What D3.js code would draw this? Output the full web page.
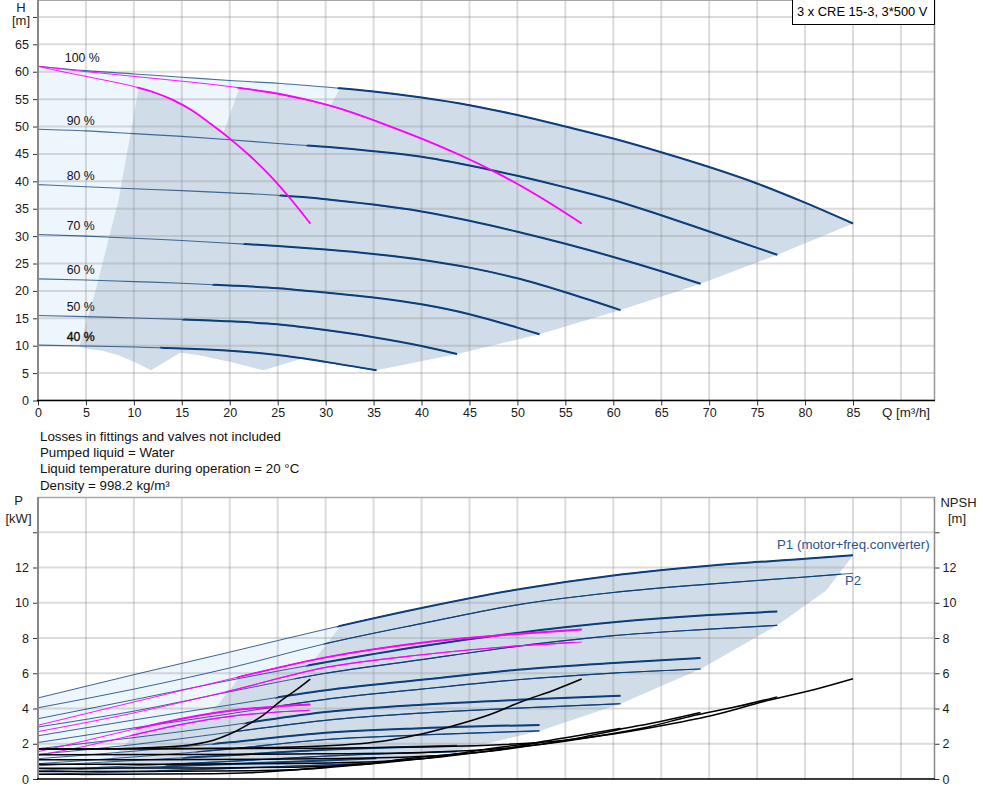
<!DOCTYPE html>
<html><head><meta charset="utf-8">
<script src="https://cdn.jsdelivr.net/npm/d3@7"></script>
<style>
body{margin:0;background:#fff;}
svg{display:block;font-family:"Liberation Sans",Arial,sans-serif;}
</style>
</head><body>
<svg id="c" width="983" height="801"></svg>
<script>
// ---------------- DATA ----------------
const speedNames = ["100 %","90 %","80 %","70 %","60 %","50 %","40 %"];
// Head curves, 3 pumps in parallel (Q m3/h, H m)
const headQ = [
  [0,5,10,15,20,25,30,35,40,45,50,55,60,65,70,75,80,85],
  [0,5,10,15,20,25,30,35,40,45,50,55,60,65,70,75,77.1],
  [0,5,10,15,20,25,30,35,40,45,50,55,60,65,69.1],
  [0,5,10,15,20,25,30,35,40,45,50,55,60.75],
  [0,5,10,15,20,25,30,35,40,45,50,52.3],
  [0,5,10,15,20,25,30,35,40,43.7],
  [0,5,10,15,20,25,30,35.3]
];
const headH = [
  [61.0,60.2,59.6,59.0,58.4,57.9,57.2,56.4,55.3,53.9,52.1,50.0,47.8,45.3,42.6,39.6,36.1,32.3],
  [49.5,49.2,48.7,48.2,47.6,46.9,46.3,45.5,44.5,42.9,41.0,38.9,36.6,33.8,30.85,27.85,26.6],
  [39.4,39.0,38.65,38.3,37.9,37.45,36.75,35.75,34.5,32.8,30.8,28.6,26.2,23.6,21.3],
  [30.3,30.0,29.6,29.2,28.7,28.2,27.55,26.75,25.7,24.25,22.3,19.75,16.5],
  [22.2,22.0,21.7,21.4,21.0,20.5,19.7,18.8,17.55,15.75,13.3,12.1],
  [15.5,15.3,15.05,14.8,14.45,13.9,12.85,11.55,9.95,8.5],
  [10.1,9.95,9.76,9.5,9.1,8.3,7.05,5.5]
];
// 1 pump and 2 pumps at 100 % (magenta)
const oneQ = [0,2,4,6,8,10,12,14,16,18,20,22,24,26,28.4];
const oneH = [61.0,60.2,59.5,58.8,58.1,57.3,56.3,54.9,53.0,50.5,47.8,44.8,41.4,37.5,32.3];
const twoQ = [0,4,8,12,16,20,24,28,32,36,40,44,48,52,56.7];
const twoH = [61.0,60.2,59.5,58.8,58.1,57.3,56.3,54.9,53.0,50.5,47.8,44.8,41.4,37.5,32.3];

// Operating areas (Q, H)
const areaLight = [[0,61],[5,60.2],[10,59.6],[15,59.0],[20,58.4],[25,57.9],[30,57.2],[31.5,57.0],
  [25.2,36.6],[18,20],[12.9,9.8],[10,9.76],[5,9.95],[0,10.1]];
const areaOne = [[4.3,9.8],[6.0,20],[8.4,36.6],[10.5,57.0],[12,56.3],[14,54.9],[16,53.0],[18,50.5],
  [20,47.8],[22,44.8],[24,41.4],[26,37.5],[28.4,32.3],[25.7,26.5],[23.0,21.3],[20.25,16.5],
  [17.4,12.1],[14.6,8.5],[11.8,5.5],[10,7.05],[8.33,8.3],[6.67,9.1],[5,9.5]];
const areaTwo = [[8.6,9.8],[12,20],[16.8,36.6],[21,57.0],[24,56.3],[28,54.9],[32,53.0],[36,50.5],
  [40,47.8],[44,44.8],[48,41.4],[52,37.5],[56.7,32.3],[51.4,26.5],[46.1,21.3],[40.5,16.5],
  [34.9,12.1],[29.1,8.5],[23.5,5.5],[20,7.05],[16.67,8.3],[13.33,9.1],[10,9.5]];
const areaThree = [[12.9,9.8],[18,20],[25.2,36.6],[31.5,57.0],[35,56.4],[40,55.3],[45,53.9],[50,52.1],
  [55,50.0],[60,47.8],[65,45.3],[70,42.6],[75,39.6],[80,36.1],[85,32.3],[77.1,26.6],[69.1,21.3],
  [60.75,16.5],[52.3,12.1],[43.7,8.5],[35.3,5.5],[30,7.05],[25,8.3],[20,9.1],[15,9.5]];

// Power curves, 3 pumps (Q, P1 and P2 in kW)
const powQ = [
  [0,10,20,30,40,50,60,70,80,85],
  [0,10,20,30,40,50,60,70,77.1],
  [0,10,20,30,40,50,60,69.1],
  [0,10,20,30,40,50,60.75],
  [0,10,20,30,40,52.3],
  [0,10,20,30,43.7],
  [0,10,20,30,35.3]
];
const powP1 = [
  [4.6,5.92,7.2,8.5,9.7,10.75,11.55,12.1,12.5,12.7],
  [3.42,4.5,5.6,6.62,7.53,8.29,8.89,9.3,9.5],
  [2.45,3.35,4.2,5.03,5.63,6.2,6.58,6.86],
  [1.72,2.35,3.05,3.8,4.21,4.49,4.72],
  [1.15,1.58,2.08,2.62,2.88,3.07],
  [0.75,1.05,1.35,1.66,1.88],
  [0.45,0.65,0.85,1.05,1.18]
];
const powP2 = [
  [4.04,5.1,6.3,7.68,8.82,9.88,10.58,11.06,11.46,11.67],
  [2.95,3.85,4.95,6.0,6.77,7.53,8.13,8.5,8.72],
  [2.07,2.9,3.7,4.52,5.10,5.63,6.01,6.24],
  [1.4,1.95,2.65,3.33,3.74,4.02,4.27],
  [0.87,1.25,1.7,2.24,2.5,2.73],
  [0.5,0.75,1.0,1.3,1.55],
  [0.26,0.42,0.6,0.8,0.89]
];
// 2 pumps and 1 pump at 100 % (magenta)
const twoPowQ = [0,10,20,30,40,50,56.7];
const twoP1 = [3.05,4.37,5.67,6.9,7.73,8.23,8.48];
const twoP2 = [2.69,3.75,5.0,6.33,7.05,7.55,7.77];
const onePowQ = [0,5,10,15,20,25,28.4];
const oneP1 = [1.55,2.18,2.83,3.42,3.87,4.12,4.22];
const oneP2 = [1.35,1.87,2.5,3.1,3.55,3.8,3.9];

// NPSH curves (m)
const npshQ = [
  [0,15,30,44.4,54.9,60,65.4,70.5,75.6,81,85],
  [0,13.5,27,40,49.4,54,58.9,63.5,68,72.9,77.1],
  [0,12,24,35.5,43.9,48,52.3,56.4,60.5,64.8,69.1],
  [0,10.5,21,31.1,38.4,42,45.8,49.4,52.9,56.7,60.75],
  [0,9,18,26.6,32.9,36,39.2,42.3,45.4,48.6,52.3],
  [0,7.5,15,22.2,27.5,30,32.7,35.3,37.8,40.5,43.7],
  [0,6,12,17.8,22,24,26.2,28.2,30.2,32.4,35.3]
];
const npshV = [
  [1.70,1.71,1.75,1.87,2.2,2.55,3.06,3.63,4.38,5.08,5.69],
  [1.38,1.39,1.42,1.51,1.78,2.07,2.48,2.94,3.55,4.11,4.66],
  [1.09,1.09,1.12,1.2,1.41,1.63,1.96,2.32,2.8,3.25,3.77],
  [0.83,0.84,0.86,0.92,1.08,1.25,1.5,1.78,2.15,2.49,2.87],
  [0.61,0.62,0.63,0.67,0.79,0.92,1.1,1.31,1.58,1.83,2.05],
  [0.43,0.43,0.44,0.47,0.55,0.64,0.77,0.91,1.1,1.27,1.42],
  [0.27,0.27,0.28,0.3,0.35,0.41,0.49,0.58,0.7,0.81,0.91]
];
const npshOneQ = [0,5,10,14.8,18.3,20,21.8,23.5,25.2,27,28.4];
const npshOneV = [1.70,1.71,1.75,1.87,2.2,2.55,3.06,3.63,4.38,5.08,5.67];
const npshTwoQ = [0,10,20,29.6,36.6,40,43.6,47,50.4,54,56.7];
const npshTwoV = [1.70,1.71,1.75,1.87,2.2,2.55,3.06,3.63,4.38,5.08,5.67];

// Power chart operating areas (Q, P)
const powLight = [[0,4.6],[10,5.92],[20,7.2],[30,8.5],[31.5,8.64],[28.35,6.45],[25.2,4.63],[22.05,3.2],
  [18.9,2.03],[15.75,1.22],[12.6,0.46],[10,0.42],[0,0.26]];
const powThree = [[31.5,8.64],[40,9.7],[50,10.75],[60,11.55],[70,12.1],[80,12.5],[85,12.7],
  [82.2,10.7],[77.1,8.72],[69.1,6.24],[60.75,4.27],[52.3,2.73],[43.7,1.6],[35.3,0.95],
  [30,0.8],[20,0.6],[12.6,0.46],[15.75,1.22],[18.9,2.03],[22.05,3.2],[25.2,4.63],[28.35,6.45]];
const powTwo = [[21,5.76],[30,6.9],[40,7.73],[50,8.23],[56.7,8.48],[54.8,7.13],[51.4,5.81],[46.1,4.16],
  [40.5,2.85],[34.9,1.82],[29.1,1.07],[23.5,0.63],[20,0.53],[13.3,0.4],[8.4,0.31],
  [10.5,0.81],[12.6,1.35],[14.7,2.13],[16.8,3.09],[18.9,4.3]];
const powOne = [[10.5,2.88],[15,3.42],[20,3.87],[25,4.12],[28.4,4.22],[27.4,3.57],[25.7,2.91],[23.0,2.08],
  [20.25,1.42],[17.4,0.91],[14.6,0.53],[11.8,0.32],[10,0.27],[6.67,0.2],[4.2,0.17],
  [5.25,0.41],[6.3,0.68],[7.35,1.07],[8.4,1.54],[9.45,2.15]];

const qTicks = [0,5,10,15,20,25,30,35,40,45,50,55,60,65,70,75,80,85];
const qGrid = [0,5,10,15,20,25,30,35,40,45,50,55,60,65,70,75,80,85,90];
const hGrid = [0,5,10,15,20,25,30,35,40,45,50,55,60,65,70];
const pGrid = [0,2,4,6,8,10,12,14];
const notes = ["Losses in fittings and valves not included","Pumped liquid = Water",
  "Liquid temperature during operation = 20 °C","Density = 998.2 kg/m³"];
const title = "3 x CRE 15-3, 3*500 V";

// ---------------- DRAWING ----------------
const svg = d3.select("#c");
const x = d3.scaleLinear().domain([0,93.5]).range([38,934.5]);
const yH = d3.scaleLinear().domain([0,73]).range([400.5,0.5]);
const yP = d3.scaleLinear().domain([0,16]).range([779,497]);

const BLUE = "#0c3f7a", MAG = "#ff00ff", LIGHT = "#edf5fd", DARK = "#d0dce8";
const GRID = "rgba(150,150,150,0.33)";
const FS = 13;

const zipLine = (qs, vs) => qs.map((q,i)=>[q,vs[i]]);
const lineH = d3.line().x(d=>x(d[0])).y(d=>yH(d[1])).curve(d3.curveMonotoneX);
const lineP = d3.line().x(d=>x(d[0])).y(d=>yP(d[1])).curve(d3.curveMonotoneX);
const polyH = d3.line().x(d=>x(d[0])).y(d=>yH(d[1]));
const polyP = d3.line().x(d=>x(d[0])).y(d=>yP(d[1]));

const defs = svg.append("defs");
// masks: operating area slightly grown so that curves on its border stay thick
const addMask = (id, d) => defs.append("mask").attr("id",id)
  .attr("maskUnits","userSpaceOnUse").attr("x",0).attr("y",0).attr("width",983).attr("height",801)
  .append("path").attr("d",d).attr("fill","#fff").attr("stroke","#fff").attr("stroke-width",4).attr("stroke-linejoin","round");
addMask("mH1", polyH(areaOne)+"Z");
addMask("mH2", polyH(areaTwo)+"Z");
addMask("mH3", polyH(areaThree)+"Z");
addMask("mP1", polyP(powOne)+"Z");
addMask("mP2", polyP(powTwo)+"Z");
addMask("mP3", polyP(powThree)+"Z");
defs.append("clipPath").attr("id","plotTop").append("rect").attr("x",38).attr("y",0).attr("width",897).attr("height",401);
defs.append("clipPath").attr("id","plotBot").append("rect").attr("x",38).attr("y",497).attr("width",897).attr("height",282);

function twoTone(g, d, color, thin, thick, mask, thinOpacity){
  g.append("path").attr("d",d).attr("fill","none").attr("stroke",color).attr("stroke-width",thin).attr("stroke-opacity",thinOpacity);
  g.append("path").attr("d",d).attr("fill","none").attr("stroke",color).attr("stroke-width",thick).attr("mask",`url(#${mask})`);
}

// ===== TOP CHART =====
const gTop = svg.append("g");
const topPlot = gTop.append("g").attr("clip-path","url(#plotTop)");
topPlot.append("path").attr("d",polyH(areaLight)+"Z").attr("fill",LIGHT);
[areaOne,areaTwo,areaThree].forEach(a=>topPlot.append("path").attr("d",polyH(a)+"Z").attr("fill",DARK));

topPlot.selectAll(".vg").data(qGrid).join("line").attr("x1",d=>x(d)).attr("x2",d=>x(d))
  .attr("y1",0).attr("y2",400).attr("stroke",GRID).attr("stroke-width",2);
topPlot.selectAll(".hg").data(hGrid).join("line").attr("x1",38).attr("x2",935)
  .attr("y1",d=>yH(d)).attr("y2",d=>yH(d)).attr("stroke",GRID).attr("stroke-width",2);

headQ.forEach((qs,i)=> twoTone(topPlot, lineH(zipLine(qs,headH[i])), BLUE, 1.1, 2, "mH3", 0.75));
twoTone(topPlot, lineH(zipLine(oneQ,oneH)), MAG, 1, 1.8, "mH1", 0.9);
twoTone(topPlot, lineH(zipLine(twoQ,twoH)), MAG, 1, 1.8, "mH2", 0.9);

gTop.selectAll(".sl").data(speedNames).join("text")
  .attr("x",(d,i)=> i===0 ? x(2.8) : x(3.0))
  .attr("y",(d,i)=>yH(headH[i][0])-4.5)
  .attr("font-size",12.3).attr("fill","#111")
  .attr("stroke",(d,i)=> i===6 ? "#111" : "none").attr("stroke-width",0.35)
  .text(d=>d);

const styleAxis = g => { g.select(".domain").remove();
  g.selectAll("text").attr("font-size",12.5).attr("fill","#1a1a1a").attr("font-family","Liberation Sans, Arial, sans-serif");
  g.selectAll("line").attr("stroke","#333"); };
const axL = d3.axisLeft(yH).tickValues(hGrid).tickFormat(d=>d<=65?d:"").tickSize(5).tickPadding(4);
gTop.append("g").attr("transform","translate(38,0)").call(axL).call(styleAxis);
const axB = d3.axisBottom(x).tickValues(qTicks).tickSize(5).tickPadding(3);
gTop.append("g").attr("transform","translate(0,400.5)").call(axB).call(styleAxis);

gTop.append("line").attr("x1",38).attr("x2",935).attr("y1",0.5).attr("y2",0.5).attr("stroke","#a8a8a8");
gTop.append("line").attr("x1",934.5).attr("x2",934.5).attr("y1",0).attr("y2",400.5).attr("stroke","#999").attr("stroke-width",1.5);
gTop.append("line").attr("x1",38).attr("x2",38).attr("y1",0).attr("y2",401).attr("stroke","#888").attr("stroke-width",2);
gTop.append("line").attr("x1",37).attr("x2",935).attr("y1",400.5).attr("y2",400.5).attr("stroke","#000").attr("stroke-width",1.5);

gTop.append("text").attr("x",21).attr("y",11.5).attr("text-anchor","middle").attr("font-size",FS).attr("fill","#222").text("H");
gTop.append("text").attr("x",21).attr("y",25).attr("text-anchor","middle").attr("font-size",FS).attr("fill","#222").text("[m]");
gTop.append("text").attr("x",882).attr("y",417).attr("font-size",13.3).attr("fill","#222").text("Q [m³/h]");

gTop.append("rect").attr("x",792.5).attr("y",-1).attr("width",142).attr("height",25.5).attr("fill","#fff").attr("stroke","#000");
gTop.append("text").attr("x",797).attr("y",16).attr("font-size",12.9).attr("fill","#000").text(title);

svg.selectAll(".note").data(notes).join("text").attr("x",40).attr("y",(d,i)=>441+i*16.2)
  .attr("font-size",13.3).attr("fill","#111").text(d=>d);

// ===== BOTTOM CHART =====
const gBot = svg.append("g");
const botPlot = gBot.append("g").attr("clip-path","url(#plotBot)");
botPlot.append("path").attr("d",polyP(powLight)+"Z").attr("fill",LIGHT);
[powOne,powTwo,powThree].forEach(a=>botPlot.append("path").attr("d",polyP(a)+"Z").attr("fill",DARK));
botPlot.selectAll(".vg").data(qGrid).join("line").attr("x1",d=>x(d)).attr("x2",d=>x(d))
  .attr("y1",497).attr("y2",779).attr("stroke",GRID).attr("stroke-width",2);
botPlot.selectAll(".hg").data(pGrid).join("line").attr("x1",38).attr("x2",935)
  .attr("y1",d=>yP(d)).attr("y2",d=>yP(d)).attr("stroke",GRID).attr("stroke-width",2);

powQ.forEach((qs,i)=>{
  twoTone(botPlot, lineP(zipLine(qs,powP2[i])), BLUE, 1, 1.2, "mP3", 0.8);
  twoTone(botPlot, lineP(zipLine(qs,powP1[i])), BLUE, 1, 2, "mP3", 0.8);
});
twoTone(botPlot, lineP(zipLine(twoPowQ,twoP1)), MAG, 1, 2, "mP2", 0.9);
twoTone(botPlot, lineP(zipLine(twoPowQ,twoP2)), MAG, 1, 1.2, "mP2", 0.9);
twoTone(botPlot, lineP(zipLine(onePowQ,oneP1)), MAG, 1, 2, "mP1", 0.9);
twoTone(botPlot, lineP(zipLine(onePowQ,oneP2)), MAG, 1, 1.2, "mP1", 0.9);

npshQ.forEach((qs,i)=>{
  botPlot.append("path").attr("d",lineP(zipLine(qs,npshV[i]))).attr("fill","none").attr("stroke","#000").attr("stroke-width",1.5);
});
[[npshOneQ,npshOneV],[npshTwoQ,npshTwoV]].forEach(([qs,vs])=>{
  botPlot.append("path").attr("d",lineP(zipLine(qs,vs))).attr("fill","none").attr("stroke","#000").attr("stroke-width",1.5);
});

const axPL = d3.axisLeft(yP).tickValues(pGrid).tickFormat(d=>d<=12?d:"").tickSize(5).tickPadding(4);
const axPR = d3.axisRight(yP).tickValues(pGrid).tickFormat(d=>d<=12?d:"").tickSize(5).tickPadding(3);
gBot.append("g").attr("transform","translate(38,0)").call(axPL).call(styleAxis);
gBot.append("g").attr("transform","translate(934.5,0)").call(axPR).call(styleAxis);

gBot.append("line").attr("x1",38).attr("x2",935).attr("y1",497.5).attr("y2",497.5).attr("stroke","#a8a8a8").attr("stroke-width",1.5);
gBot.append("line").attr("x1",934.5).attr("x2",934.5).attr("y1",497).attr("y2",779).attr("stroke","#888").attr("stroke-width",1.5);
gBot.append("line").attr("x1",38).attr("x2",38).attr("y1",497).attr("y2",779).attr("stroke","#888").attr("stroke-width",2);
gBot.append("line").attr("x1",37).attr("x2",935).attr("y1",779).attr("y2",779).attr("stroke","#000").attr("stroke-width",1.5);

gBot.append("text").attr("x",18.5).attr("y",505).attr("text-anchor","middle").attr("font-size",FS).attr("fill","#222").text("P");
gBot.append("text").attr("x",18.5).attr("y",523).attr("text-anchor","middle").attr("font-size",FS).attr("fill","#222").text("[kW]");
gBot.append("text").attr("x",958.5).attr("y",506.5).attr("text-anchor","middle").attr("font-size",FS).attr("fill","#222").text("NPSH");
gBot.append("text").attr("x",957).attr("y",523).attr("text-anchor","middle").attr("font-size",FS).attr("fill","#222").text("[m]");
gBot.append("text").attr("x",777).attr("y",548.5).attr("font-size",13.3).attr("fill","#2a5590").text("P1 (motor+freq.converter)");
gBot.append("text").attr("x",845).attr("y",585).attr("font-size",13.3).attr("fill","#2a5590").text("P2");
</script>
</body></html>
